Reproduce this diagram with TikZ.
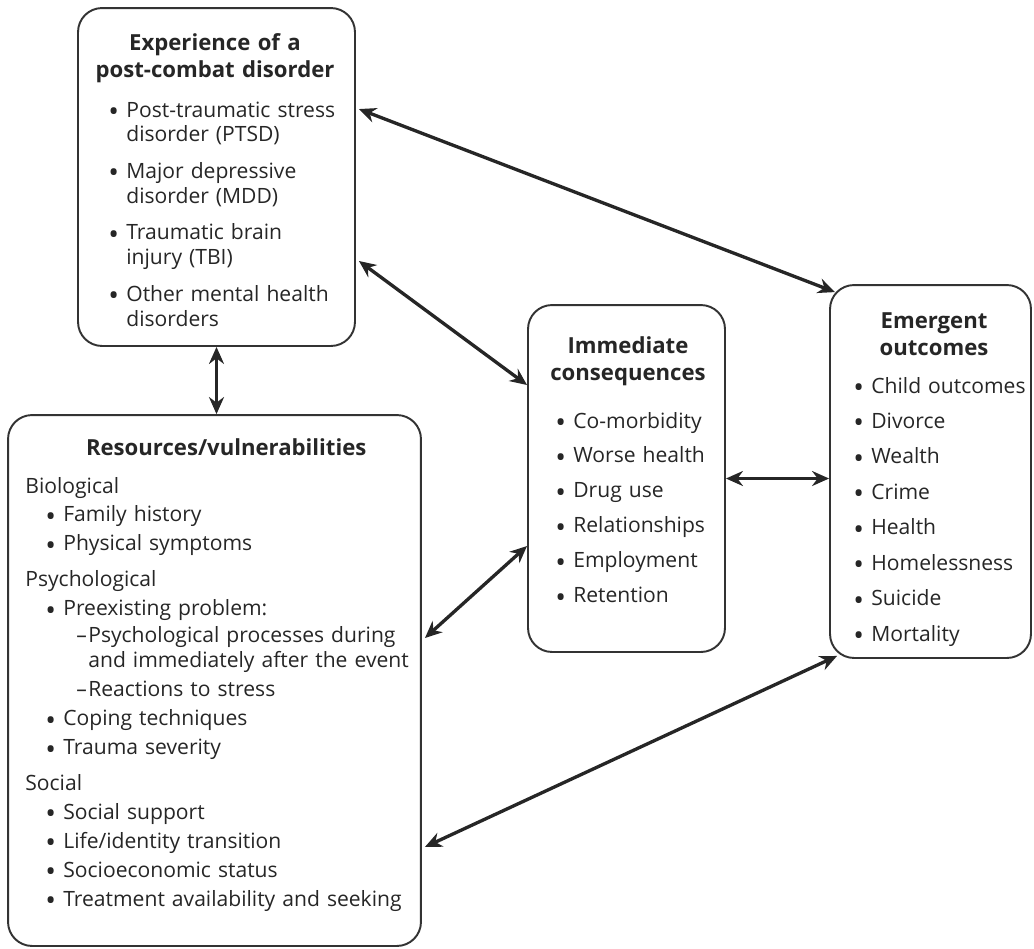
\documentclass[tikz,border=0pt]{standalone}
\usepackage{fontspec}
\setmainfont{Open Sans}
\usetikzlibrary{arrows.meta}
\newcommand{\bul}{\makebox[0.36cm][l]{\raisebox{-0.4ex}{\scalebox{1.35}{\textbullet}}}}

\begin{document}
\begin{tikzpicture}[x=0.02cm,y=-0.02cm]%
  \tikzstyle{boxn}=[rectangle,draw=black!80,line width=1.1pt,rounded corners=0.48cm,inner sep=0]
  \tikzstyle{headn}=[font=\fontsize{12.6}{15.6}\selectfont\bfseries,text width=5.2cm,align=center,anchor=base,inner sep=0,text=black!85]
  \tikzstyle{bodyn}=[font=\fontsize{12}{14.2}\selectfont,text width=8cm,align=left,anchor=base west,inner sep=0,text=black!85]
  \tikzstyle{arrn}=[{Stealth[length=0.34cm,width=0.3cm]}-{Stealth[length=0.34cm,width=0.3cm]},line width=1.9pt,draw=black!85]
  \useasboundingbox (0,0) rectangle (1034,948);
  % the four boxes
  \node(exp)[boxn,minimum width=5.54cm,minimum height=6.76cm] at (216.5,177) {};
  \node(res)[boxn,minimum width=8.26cm,minimum height=10.62cm] at (214.5,680.5) {};
  \node(imm)[boxn,minimum width=3.94cm,minimum height=6.94cm] at (626.5,478.5) {};
  \node(emg)[boxn,minimum width=4.02cm,minimum height=7.46cm] at (930.5,471.5) {};
  % headings
  \node(exph)[headn] at (215,50) {Experience of a\\post-combat disorder};
  \node(resh)[headn] at (216,455) {Resources/vulnerabilities};
  \node(immh)[headn] at (628,353) {Immediate\\consequences};
  \node(emgh)[headn] at (934,328) {Emergent\\outcomes};
  % lists
  \node(expl)[bodyn] at (108,117) {\bul Post-traumatic stress\\
    \hspace*{0.36cm}disorder (PTSD)\\[0.23cm]
    \bul Major depressive\\
    \hspace*{0.36cm}disorder (MDD)\\[0.23cm]
    \bul Traumatic brain\\
    \hspace*{0.36cm}injury (TBI)\\[0.23cm]
    \bul Other mental health\\
    \hspace*{0.36cm}disorders};
  \node(resl)[bodyn] at (25,493) {Biological\\[0.08cm]
    \hspace*{0.4cm}\bul Family history\\[0.08cm]
    \hspace*{0.4cm}\bul Physical symptoms\\[0.22cm]
    Psychological\\[0.08cm]
    \hspace*{0.4cm}\bul Preexisting problem:\\[0.04cm]
    \hspace*{1.02cm}\makebox[0.24cm][l]{--}Psychological processes during\\
    \hspace*{1.26cm}and immediately after the event\\[0.08cm]
    \hspace*{1.02cm}\makebox[0.24cm][l]{--}Reactions to stress\\[0.08cm]
    \hspace*{0.4cm}\bul Coping techniques\\[0.08cm]
    \hspace*{0.4cm}\bul Trauma severity\\[0.22cm]
    Social\\[0.08cm]
    \hspace*{0.4cm}\bul Social support\\[0.08cm]
    \hspace*{0.4cm}\bul Life/identity transition\\[0.08cm]
    \hspace*{0.4cm}\bul Socioeconomic status\\[0.08cm]
    \hspace*{0.4cm}\bul Treatment availability and seeking};
  \node(imml)[bodyn] at (555,428) {\bul Co-morbidity\\[0.2cm]
    \bul Worse health\\[0.2cm]
    \bul Drug use\\[0.2cm]
    \bul Relationships\\[0.2cm]
    \bul Employment\\[0.2cm]
    \bul Retention};
  \node(emgl)[bodyn] at (853,393) {\bul Child outcomes\\[0.21cm]
    \bul Divorce\\[0.21cm]
    \bul Wealth\\[0.21cm]
    \bul Crime\\[0.21cm]
    \bul Health\\[0.21cm]
    \bul Homelessness\\[0.21cm]
    \bul Suicide\\[0.21cm]
    \bul Mortality};
  % two-headed links
  \draw[arrn] ([xshift=0.06cm,yshift=-2.04cm]exp.north east) -- ([xshift=0.12cm,yshift=-0.16cm]emg.north west);
  \draw[arrn] ([xshift=0.06cm,yshift=-1.68cm]exp.east) -- ([yshift=1.87cm]imm.west);
  \draw[arrn] (exp.south) -- (exp.south |- res.north);
  \draw[arrn] (imm.east) -- (imm.east -| emg.west);
  \draw[arrn] ([xshift=0.06cm,yshift=0.85cm]res.east) -- ([yshift=-1.35cm]imm.west);
  \draw[arrn] ([xshift=0.06cm,yshift=-3.33cm]res.east) -- ([xshift=0.16cm,yshift=0.06cm]emg.south west);
\end{tikzpicture}
\end{document}
